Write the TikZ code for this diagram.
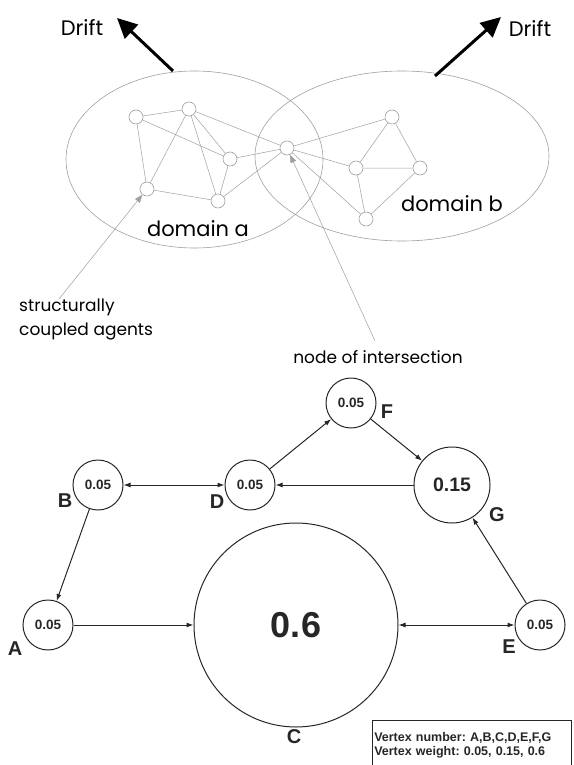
\documentclass[tikz,border=0pt]{standalone}
\usepackage{fontspec}
\setmainfont{Liberation Sans}
\newfontfamily\gothic{Poppins}
\usetikzlibrary{shapes.geometric, arrows.meta, positioning}
\frenchspacing

\begin{document}
\begin{tikzpicture}[
    x=1pt, y=-1pt,
    region/.style={ellipse, draw=gray!75, line width=0.6pt, inner sep=0pt},
    agent/.style={circle, draw=gray!75, line width=0.6pt, minimum size=14pt, inner sep=0pt},
    link/.style={draw=gray!75, line width=0.5pt},
    drift/.style={-{Triangle[length=20pt, width=19pt]}, line width=3pt},
    pointer/.style={-{Triangle[length=8pt, width=6pt]}, draw=gray!75, line width=0.5pt},
    note/.style={font=\gothic\fontsize{17}{24}\selectfont, align=left, inner sep=0pt},
    vertex/.style={circle, draw=black!85, line width=1pt, minimum size=50pt, inner sep=0pt, text=black!85, font=\bfseries\fontsize{13.5}{15}\selectfont},
    vlabel/.style={inner sep=0pt, text=black!85, font=\bfseries\fontsize{20}{22}\selectfont},
    edge/.style={-{Latex[length=7pt, width=5pt]}, draw=black!85, line width=1pt},
    both/.style={{Latex[length=7pt, width=5pt]}-{Latex[length=7pt, width=5pt]}, draw=black!85, line width=1pt}
]
\useasboundingbox (0,0) rectangle (573,765);

% Domains of the network
\node[region, minimum width=257pt, minimum height=177pt] (doma) at (194.5,159.5) {};
\node[region, minimum width=294pt, minimum height=170pt] (domb) at (402,156) {};
\node[note, font=\gothic\fontsize{21}{24}\selectfont] (labda) at (198,229) {domain a};
\node[note, font=\gothic\fontsize{21}{24}\selectfont] (labdb) at (452,204) {domain b};

% Drift arrows
\node[note, font=\gothic\fontsize{21}{24}\selectfont] (drifta) at (82,27) {Drift};
\node[note, font=\gothic\fontsize{21}{24}\selectfont] (driftb) at (530,28) {Drift};
\coordinate (tailA) at (173,71);
\coordinate (tipA) at (117,18);
\coordinate (tailB) at (435,76);
\coordinate (tipB) at (501,17);
\draw[drift] (tailA) -- (tipA);
\draw[drift] (tailB) -- (tipB);

% Agents
\node[agent] (a1) at (136,117) {};
\node[agent] (a2) at (189,109) {};
\node[agent] (a3) at (230,159) {};
\node[agent] (a4) at (147,189) {};
\node[agent] (a5) at (218,201) {};
\node[agent] (ix) at (287,148) {};
\node[agent] (b1) at (392,117) {};
\node[agent] (b2) at (356,168) {};
\node[agent] (b3) at (420,168) {};
\node[agent] (b4) at (366,219) {};

\draw[link] (a1) -- (a2) (a1) -- (a4) (a1) -- (a3) (a2) -- (a4) (a2) -- (a5)
    (a2) -- (a3) (a2) -- (ix) (a3) -- (a5) (a3) -- (ix) (a4) -- (a5) (a5) -- (ix);
\draw[link] (ix) -- (b1) (ix) -- (b2) (ix) -- (b4) (b1) -- (b2) (b1) -- (b3)
    (b2) -- (b3) (b2) -- (b4) (b3) -- (b4);

% Callouts
\node[note, anchor=north west] (coupled) at (19,299) {structurally\\coupled agents};
\node[note] (inter) at (378,357) {node of intersection};
\coordinate (ptA) at (59,299);
\coordinate (ptB) at (375,341);
\draw[pointer] (ptA) -- (a4);
\draw[pointer] (ptB) -- (ix);

% Weighted graph
\node[vertex] (A) at (48,625) {0.05};
\node[vertex] (B) at (98,485) {0.05};
\node[vertex] (D) at (250,485) {0.05};
\node[vertex] (F) at (351,403) {0.05};
\node[vertex, minimum size=76pt, font=\bfseries\fontsize{19.5}{22}\selectfont] (G) at (452,485) {0.15};
\node[vertex, minimum size=204pt, font=\bfseries\fontsize{36}{40}\selectfont] (C) at (296,625) {0.6};
\node[vertex] (E) at (540,625) {0.05};

\node[vlabel] (labA) at (15,649) {A};
\node[vlabel] (labB) at (65,501) {B};
\node[vlabel] (labC) at (294,737) {C};
\node[vlabel] (labD) at (217,502) {D};
\node[vlabel] (labE) at (509,647) {E};
\node[vlabel] (labF) at (387,412) {F};
\node[vlabel] (labG) at (497,515) {G};

\draw[edge] (B) -- (A);
\draw[both] (B) -- (D);
\draw[edge] (G) -- (D);
\draw[edge] (D) -- (F);
\draw[edge] (F) -- (G);
\draw[edge] (E) -- (G);
\draw[edge] (A) -- (C);
\draw[both] (C) -- (E);

% Legend
\node[draw=black!85, line width=1pt, minimum width=199.5pt, minimum height=51pt,
      text width=195pt, align=left, inner sep=2pt, text=black!85,
      font=\bfseries\fontsize{12.5}{13.5}\selectfont] (legend) at (471.75,745.5)
      {Vertex number: A,B,C,D,E,F,G\\Vertex weight: 0.05, 0.15, 0.6};

\end{tikzpicture}
\end{document}
